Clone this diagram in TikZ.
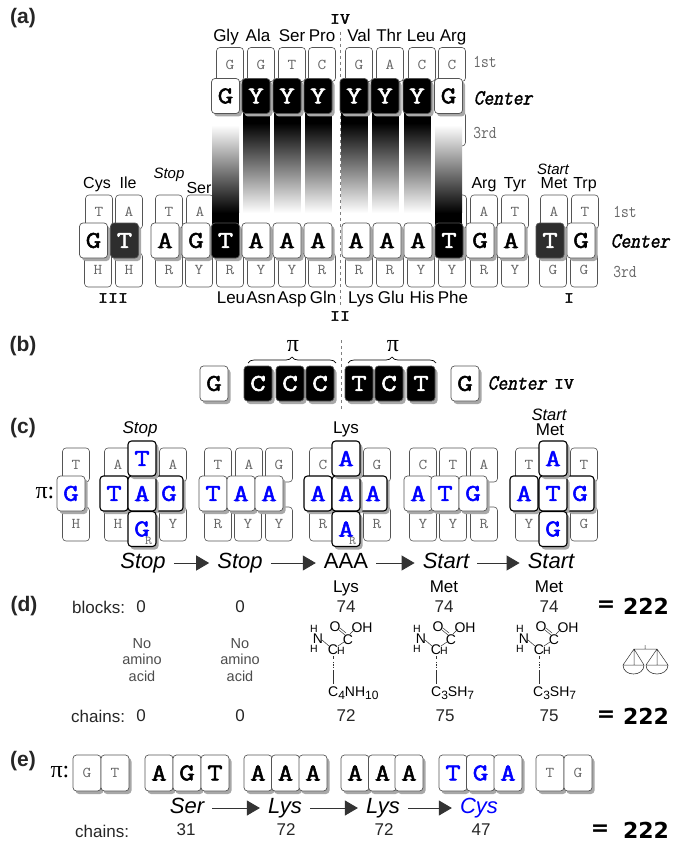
\documentclass[tikz,border=0pt]{standalone}
\usepackage{fontspec}
\setmainfont{Liberation Sans}
\newfontfamily\serifpi{Liberation Serif}
\newfontfamily\heavy{DejaVu Sans}
\newfontfamily\tilefont[FakeBold=2.2,FakeStretch=1.25]{Latin Modern Mono}
\newfontfamily\thinfont[FakeStretch=1.12]{Latin Modern Mono}
\newfontfamily\centerfont[FakeBold=1.8,FakeSlant=0.2,FakeStretch=0.88]{Latin Modern Mono}
\newfontfamily\ordfont[FakeStretch=0.84]{Latin Modern Mono}
\usetikzlibrary{shadows,arrows.meta,decorations.pathreplacing}
\definecolor{tileline}{HTML}{555555}
\definecolor{shadowc}{HTML}{A8A8A8}
\definecolor{tletter}{HTML}{666666}
\newcommand{\fs}[1]{\fontsize{#1}{#1}\selectfont}
\newcommand{\subx}[1]{\raisebox{-3pt}{\fs{12}#1}}
\tikzset{
  tilebase/.style={rectangle,rounded corners=3.5pt,inner sep=0pt,minimum width=28pt,minimum height=35pt},
  smalltile/.style={tilebase,minimum width=27pt,minimum height=34pt,draw=tileline,line width=.6pt,fill=white,text=tletter,font=\fs{15}\thinfont},
  bigtile/.style={tilebase,draw=tileline,line width=.7pt,fill=white,font=\fs{24}\tilefont,
     drop shadow={shadow xshift=2.5pt,shadow yshift=-3pt,fill=shadowc,opacity=1}},
  bluetile/.style={bigtile,text=blue},
  crosstile/.style={bigtile,text=blue,draw=black,line width=1.1pt},
  blacktile/.style={bigtile,fill=black,text=white},
  darktile/.style={bigtile,fill=black!82,text=white},
  ltile/.style={bigtile,minimum height=36pt},
  lab/.style={font=\fs{16},inner sep=0pt,text height=12pt,text depth=3pt},
  labc/.style={font=\fs{17},inner sep=0pt,text height=12pt,text depth=3pt},
  labb/.style={font=\fs{17},inner sep=0pt,text height=12pt,text depth=3pt},
  num/.style={font=\fs{17},inner sep=0pt,text=black!85},
  panel/.style={font=\fs{21}\bfseries,inner sep=0pt,text=black!85},
  seq/.style={font=\fs{22}\itshape,inner sep=0pt,text height=15pt,text depth=4pt},
  seqr/.style={font=\fs{22},inner sep=0pt,text height=15pt,text depth=4pt},
  flow/.style={draw=black!80,line width=.9pt,-{Triangle[length=13pt,width=15pt]},shorten >=8pt,shorten <=8pt},
  roman/.style={font=\fs{15.5}\tilefont,inner sep=0pt},
  total/.style={font=\fs{22}\heavy\bfseries,inner sep=0pt},
  divider/.style={draw=gray,dashed,line width=.6pt},
  atom/.style={font=\fs{14},inner sep=0pt},
  hatom/.style={font=\fs{10.5},inner sep=0pt},
  bond/.style={draw=black!80,line width=.5pt},
  amino/.style={font=\fs{14.5},inner sep=0pt,text=black!70,align=center},
  ordlab/.style={font=\fs{18}\ordfont,inner sep=0pt,text=tletter},
  centlab/.style={font=\fs{21.5}\centerfont,inner sep=0pt}
}
\newcommand{\molecule}[1]{%
 \begin{scope}[shift={(#1,0)}]
  \node[atom] at (421,639) {N};
  \node[hatom] at (417,629) {H};
  \node[hatom] at (417,649) {H};
  \node[atom] at (438,627) {O};
  \node[atom] at (465,628) {OH};
  \node[atom] at (451,640) {C};
  \node[atom] at (436,650) {C};
  \node[hatom] at (444,651) {H};
  \draw[bond] (425,640) -- (432,646);
  \draw[bond] (441,646) -- (447,642);
  \draw[bond] (448,635) -- (442,630) (449,633) -- (443,628);
  \draw[bond] (453,634) -- (458,629);
  \draw[bond] (436,656) -- (436,659);
  \draw[bond,densely dotted] (436,662) -- (436,668);
  \draw[bond] (436,670) -- (436,684);
 \end{scope}}
\begin{document}
\begin{tikzpicture}[x=1pt,y=-1pt]
\useasboundingbox (0,0) rectangle (692,842);
% panel labels
\node[panel] (pa) at (23,18) {(a)};
\node[panel] (pb) at (23,346) {(b)};
\node[panel] (pc) at (23,428) {(c)};
\node[panel] (pd) at (24,606) {(d)};
\node[panel] (pe) at (23,761) {(e)};
% ---------- (a) ----------
\draw[divider] (340,32) -- (340,306);
\node[roman] (iv) at (340,19) {IV};
\node[roman] (ii) at (340,316) {II};
\node[roman] (iii) at (113,298) {III};
\node[roman] (i) at (569,298) {I};
\foreach \x/\t in {230/G,261/G,292/T,322/C,359/G,390/A,422/C,452/C}
  \node[smalltile] (at\x) at (\x,64.5) {\t};
\node[smalltile] (at3) at (452,129) {};
\foreach \x/\t in {99/T,129/A,169/T,200/A,453/{},484/A,515/T,554/A,585/T}
  \node[smalltile] (ab\x) at (\x,212) {\t};
\foreach \x/\t in {98/H,129/H,169/R,199/Y,230/R,261/Y,292/Y,322/R,359/R,390/R,421/Y,452/Y,484/R,515/Y,553/G,584/G}
  \node[smalltile] (ac\x) at (\x,270) {\t};
% gradient columns
\foreach \x in {243,274,305,341,372,404}{
  \fill[black] (\x,113) rectangle (\x+26.5,123);
  \shade[top color=black,bottom color=white] (\x,123) rectangle (\x+26.5,213);
}
\foreach \x in {212,435}{
  \fill[white] (\x,114) rectangle (\x+27,125);
  \shade[top color=white,bottom color=black] (\x,125) rectangle (\x+27,213);
  \fill[black] (\x,213) rectangle (\x+27,226);
}
\node[bigtile] (tg1) at (225.5,96) {G};
\foreach \x in {256,287,318,354,385,417}
  \node[blacktile] (ty\x) at (\x,96) {Y};
\node[bigtile] (tg2) at (448.5,96) {G};
% bottom centre row
\node[bigtile] (g94) at (93.5,240.5) {G};
\node[darktile] (t124) at (124.5,240.5) {T};
\foreach \x/\t in {165/A,196/G}
  \node[bigtile] (c\x) at (\x,240.5) {\t};
\node[blacktile] (t225) at (225.5,240.5) {T};
\foreach \x/\t in {256/A,287/A,318/A,356/A,387/A,418/A}
  \node[bigtile] (c\x) at (\x,240.5) {\t};
\node[blacktile] (t449) at (449,240.5) {T};
\foreach \x/\t in {480/G,511/A}
  \node[bigtile] (c\x) at (\x,240.5) {\t};
\node[darktile] (t550) at (550,240.5) {T};
\node[bigtile] (c581) at (581,240.5) {G};
% amino acid labels
\foreach \x/\t in {226/Gly,258/Ala,292/Ser,322/Pro,359/Val,389/Thr,421/Leu,453/Arg}
  \node[labb] (na\x) at (\x,37.5) {\t};
\foreach \x/\t in {97/Cys,128/Ile,484/Arg,515/Tyr,554/Met,585/Trp}
  \node[lab] (nb\x) at (\x,184) {\t};
\node[lab] (nbser) at (199,189) {Ser};
\node[lab,font=\fs{15}\itshape] (stopa) at (169,174) {Stop};
\node[lab,font=\fs{15}\itshape] (starta) at (553,170) {Start};
\foreach \x/\t in {231/Leu,261/Asn,292/Asp,323/Gln,361/Lys,391/Glu,422/His,453/Phe}
  \node[labb] (nc\x) at (\x,299) {\t};
% side labels
\node[ordlab] (l1a) at (485,62) {1st};
\node[centlab] (l2a) at (503,98) {Center};
\node[ordlab] (l3a) at (485,133) {3rd};
\node[ordlab] (l1b) at (625,212) {1st};
\node[centlab] (l2b) at (640,241) {Center};
\node[ordlab] (l3b) at (625,272) {3rd};
% ---------- (b) ----------
\draw[divider] (341,340) -- (341,410);
\node[bigtile] (bg1) at (214,383.5) {G};
\foreach \x/\t in {258/C,290/C,320/C,359/T,389/C,421/T}
  \node[blacktile] (b\x) at (\x,383.5) {\t};
\node[bigtile] (bg2) at (465,383.5) {G};
\draw[line width=.7pt,decorate,decoration={brace,amplitude=6pt}] (248,363) -- (336,363);
\draw[line width=.7pt,decorate,decoration={brace,amplitude=6pt}] (348,363) -- (436,363);
\node[inner sep=0pt,font=\fs{24}\serifpi] (pi1) at (293,346) {π};
\node[inner sep=0pt,font=\fs{24}\serifpi] (pi2) at (393,346) {π};
\node[centlab] (cb) at (517,383) {Center};
\node[roman] (ivb) at (564,384) {IV};
% ---------- (c) ----------
\node[inner sep=0pt,font=\fs{24}\serifpi] (pic) at (45,493) {π:};
\foreach \x/\t in {76/T,118/A,173/A,218/T,249/A,279/G,323/C,377/G,423/C,453/T,484/A,529/T,584/T}
  \node[smalltile] (ct\x) at (\x,465) {\t};
\foreach \x/\t in {76/H,118/H,173/Y,218/R,248/Y,279/Y,323/R,377/R,423/Y,453/Y,484/R,529/Y,584/G}
  \node[smalltile] (cd\x) at (\x,524) {\t};
\node[bluetile] (cg) at (71,493.5) {G};
\foreach \x/\t in {114/T,169/G,318/A,373/A,524/A,580/G}
  \node[crosstile] (cm\x) at (\x,493.5) {\t};
\foreach \x/\t in {213/T,241/A,269/A,418/A,445/T,473/G}
  \node[bluetile] (cm\x) at (\x,493.5) {\t};
\foreach \x/\t in {142/A,346/A,553/T}
  \node[crosstile] (cm\x) at (\x,493.5) {\t};
\foreach \x/\t in {142/T,346/A,553/A}
  \node[crosstile] (cu\x) at (\x,458.5) {\t};
\foreach \x/\t in {142/G,346/A,553/G}
  \node[crosstile] (cl\x) at (\x,529) {\t};
\node[inner sep=0pt,text=tletter,font=\fs{12}\thinfont] (rs1) at (148.5,541) {R};
\node[inner sep=0pt,text=tletter,font=\fs{12}\thinfont] (rs2) at (352.5,541) {R};
\node[labc,font=\fs{17}\itshape] (stopc) at (140,429) {Stop};
\node[labc] (lysc) at (346,429) {Lys};
\node[labc,font=\fs{16.5}\itshape] (startc) at (549,416) {Start};
\node[labc] (metc) at (550,431) {Met};
\node[seq] (s1) at (143,563) {Stop};
\node[seq] (s2) at (240,563) {Stop};
\node[seqr] (s3) at (346,563) {AAA};
\node[seq] (s4) at (446,563) {Start};
\node[seq] (s5) at (551,563) {Start};
\draw[flow] (s1) -- (s2);
\draw[flow] (s2) -- (s3);
\draw[flow] (s3) -- (s4);
\draw[flow] (s4) -- (s5);
% ---------- (d) ----------
\node[num,anchor=west] (blk) at (72,607) {blocks:};
\node[num,anchor=west] (chn) at (71,716) {chains:};
\foreach \x/\t in {141/0,240/0,346/74,444/74,549/74}
  \node[num] (bl\x) at (\x,607) {\t};
\foreach \x/\t in {141/0,240/0,346/72,445/75,549/75}
  \node[num] (ch\x) at (\x,716) {\t};
\foreach \x/\t in {346/Lys,444/Met,549/Met}
  \node[labc] (aa\x) at (\x,588) {\t};
\node[amino] (noa) at (142,660) {No\\[2pt]amino\\[2pt]acid};
\node[amino] (nob) at (240,660) {No\\[2pt]amino\\[2pt]acid};
\molecule{-103}
\molecule{0}
\molecule{103}
\node[atom,anchor=west] (sc1) at (328,693) {C\subx{4}NH\subx{10}};
\node[atom,anchor=west] (sc2) at (431,693) {C\subx{3}SH\subx{7}};
\node[atom,anchor=west] (sc3) at (533,693) {C\subx{3}SH\subx{7}};
\node[total] (eq1) at (606,606) {=};
\node[total] (v1) at (646,606) {222};
\node[total] (eq2) at (606,716) {=};
\node[total] (v2) at (646,716) {222};
% balance
\draw[line width=.5pt,draw=black!80] (645,645) -- (645,649) (634,649) -- (657,649)
  (634,649) -- (623,665) (634,649) -- (644,665) (634,649) -- (634,665)
  (657,649) -- (646,665) (657,649) -- (668,665) (657,649) -- (657,665)
  (623,665) -- (644,665) (646,665) -- (668,665);
\draw[line width=.6pt,draw=black!80] (623,665) .. controls (623,677) and (644,677) .. (644,665);
\draw[line width=.6pt,draw=black!80] (646,665) .. controls (646,677) and (668,677) .. (668,665);
% ---------- (e) ----------
\node[inner sep=0pt,font=\fs{24}\serifpi] (pie) at (60,772) {π:};
\begin{scope}[every node/.append style={ltile}]
\foreach \x/\t in {87/G,115/T}
  \node[text=tletter,font=\fs{15}\thinfont] (e\x) at (\x,773) {\t};
\foreach \x/\t in {159/A,187/G,215/T,258/A,285.5/A,313/A,355/A,382.5/A,409/A}
  \node (e\x) at (\x,773) {\t};
\foreach \x/\t in {453/T,480.5/G,508/A}
  \node[text=blue] (e\x) at (\x,773) {\t};
\foreach \x/\t in {550/T,578/G}
  \node[text=tletter,font=\fs{15}\thinfont] (e\x) at (\x,773) {\t};
\end{scope}
\node[seq] (f1) at (187,808) {Ser};
\node[seq] (f2) at (285,808) {Lys};
\node[seq] (f3) at (383,808) {Lys};
\node[seq,text=blue] (f4) at (479,808) {Cys};
\draw[flow] (f1) -- (f2);
\draw[flow] (f2) -- (f3);
\draw[flow] (f3) -- (f4);
\node[num,anchor=west] (che) at (75,831) {chains:};
\foreach \x/\t in {186/31,286/72,384/72,481/47}
  \node[num] (cn\x) at (\x,830) {\t};
\node[total] (eq3) at (600,830) {=};
\node[total] (v3) at (646,830) {222};
\end{tikzpicture}
\end{document}
